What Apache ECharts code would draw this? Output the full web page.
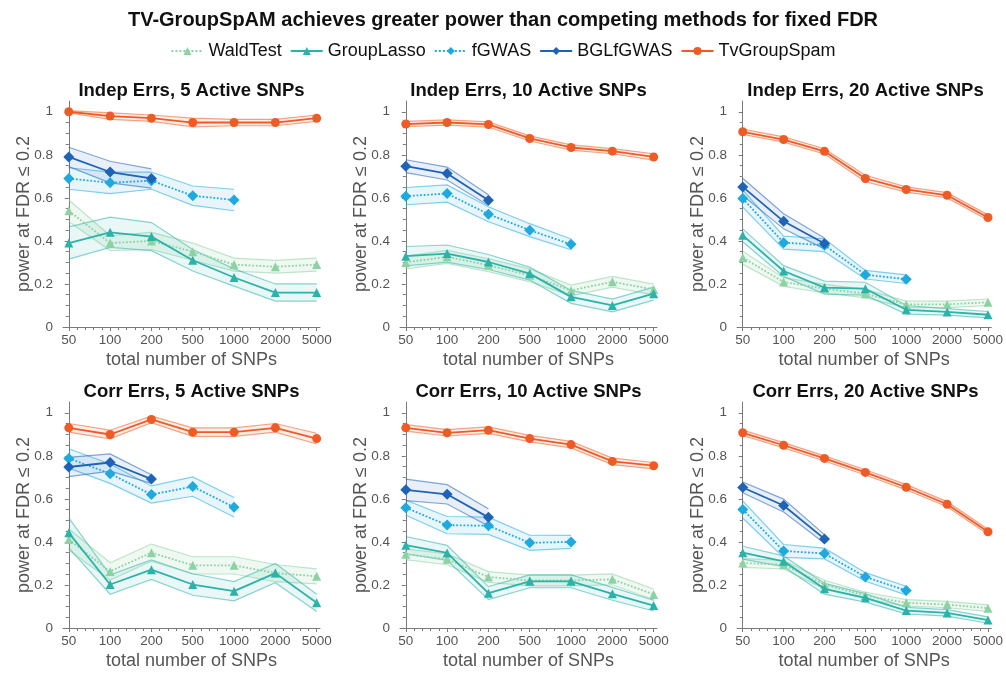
<!DOCTYPE html>
<html>
<head>
<meta charset="utf-8">
<script src="https://cdn.jsdelivr.net/npm/echarts@6/dist/echarts.min.js"></script>
<style>html,body{margin:0;padding:0;background:#fff}#c{width:1006px;height:674px}</style>
</head>
<body>
<div id="c"></div>
<script>
const xLabels = ['50','100','200','500','1000','2000','5000'];
const methods = ['WaldTest','GroupLasso','fGWAS','BGLfGWAS','TvGroupSpam'];
const panelTitles = ['Indep Errs, 5 Active SNPs','Indep Errs, 10 Active SNPs','Indep Errs, 20 Active SNPs',
                     'Corr Errs, 5 Active SNPs','Corr Errs, 10 Active SNPs','Corr Errs, 20 Active SNPs'];
const yTicks = [0, 0.2, 0.4, 0.6, 0.8, 1];

// Panel 1: Indep Errs, 5 Active SNPs
const p1_wald = [0.54, 0.39, 0.40, 0.35, 0.29, 0.28, 0.29];
const p1_waldErr = [0.05, 0.035, 0.04, 0.04, 0.03, 0.03, 0.03];
const p1_lasso = [0.39, 0.44, 0.42, 0.31, 0.23, 0.16, 0.16];
const p1_lassoErr = [0.075, 0.07, 0.065, 0.05, 0.04, 0.04, 0.04];
const p1_fgwas = [0.69, 0.67, 0.68, 0.61, 0.59];
const p1_fgwasErr = [0.05, 0.05, 0.04, 0.045, 0.05];
const p1_bgl = [0.79, 0.72, 0.69];
const p1_bglErr = [0.045, 0.05, 0.045];
const p1_tv = [1.0, 0.98, 0.97, 0.95, 0.95, 0.95, 0.97];
const p1_tvErr = [0.005, 0.015, 0.015, 0.02, 0.015, 0.015, 0.015];

// Panel 2: Indep Errs, 10 Active SNPs
const p2_wald = [0.30, 0.326, 0.287, 0.24, 0.17, 0.21, 0.174];
const p2_waldErr = [0.03, 0.03, 0.03, 0.03, 0.025, 0.025, 0.025];
const p2_lasso = [0.329, 0.341, 0.302, 0.248, 0.14, 0.10, 0.155];
const p2_lassoErr = [0.045, 0.04, 0.035, 0.03, 0.03, 0.03, 0.03];
const p2_fgwas = [0.608, 0.62, 0.524, 0.45, 0.384];
const p2_fgwasErr = [0.04, 0.04, 0.035, 0.03, 0.025];
const p2_bgl = [0.747, 0.713, 0.589];
const p2_bglErr = [0.03, 0.03, 0.025];
const p2_tv = [0.943, 0.95, 0.941, 0.876, 0.834, 0.817, 0.79];
const p2_tvErr = [0.012, 0.012, 0.012, 0.012, 0.012, 0.012, 0.015];

// Panel 3: Indep Errs, 20 Active SNPs
const p3_wald = [0.322, 0.209, 0.178, 0.155, 0.105, 0.105, 0.115];
const p3_waldErr = [0.03, 0.02, 0.02, 0.02, 0.015, 0.015, 0.015];
const p3_lasso = [0.426, 0.26, 0.183, 0.178, 0.08, 0.07, 0.057];
const p3_lassoErr = [0.03, 0.025, 0.03, 0.03, 0.02, 0.015, 0.015];
const p3_fgwas = [0.597, 0.392, 0.38, 0.243, 0.222];
const p3_fgwasErr = [0.04, 0.03, 0.03, 0.02, 0.02];
const p3_bgl = [0.651, 0.491, 0.388];
const p3_bglErr = [0.04, 0.035, 0.025];
const p3_tv = [0.907, 0.871, 0.816, 0.69, 0.639, 0.612, 0.509];
const p3_tvErr = [0.012, 0.012, 0.012, 0.015, 0.012, 0.012, 0.012];

// Panel 4: Corr Errs, 5 Active SNPs
const p4_wald = [0.411, 0.263, 0.35, 0.291, 0.291, 0.255, 0.24];
const p4_waldErr = [0.05, 0.04, 0.04, 0.04, 0.04, 0.04, 0.035];
const p4_lasso = [0.442, 0.202, 0.271, 0.202, 0.171, 0.255, 0.117];
const p4_lassoErr = [0.07, 0.045, 0.045, 0.05, 0.045, 0.045, 0.04];
const p4_fgwas = [0.788, 0.717, 0.62, 0.657, 0.561];
const p4_fgwasErr = [0.045, 0.045, 0.04, 0.045, 0.045];
const p4_bgl = [0.748, 0.769, 0.692];
const p4_bglErr = [0.045, 0.04, 0.02];
const p4_tv = [0.93, 0.899, 0.969, 0.91, 0.91, 0.93, 0.88];
const p4_tvErr = [0.02, 0.02, 0.015, 0.02, 0.02, 0.02, 0.025];

// Panel 5: Corr Errs, 10 Active SNPs
const p5_wald = [0.343, 0.319, 0.237, 0.221, 0.221, 0.226, 0.156];
const p5_waldErr = [0.025, 0.025, 0.025, 0.025, 0.025, 0.025, 0.025];
const p5_lasso = [0.385, 0.349, 0.162, 0.217, 0.217, 0.159, 0.104];
const p5_lassoErr = [0.04, 0.035, 0.03, 0.03, 0.03, 0.03, 0.025];
const p5_fgwas = [0.559, 0.478, 0.475, 0.396, 0.40];
const p5_fgwasErr = [0.035, 0.04, 0.04, 0.035, 0.03];
const p5_bgl = [0.642, 0.621, 0.514];
const p5_bglErr = [0.05, 0.045, 0.04];
const p5_tv = [0.93, 0.907, 0.919, 0.88, 0.852, 0.774, 0.754];
const p5_tvErr = [0.015, 0.015, 0.015, 0.015, 0.015, 0.015, 0.015];

// Panel 6: Corr Errs, 20 Active SNPs
const p6_wald = [0.302, 0.294, 0.202, 0.151, 0.117, 0.109, 0.092];
const p6_waldErr = [0.02, 0.02, 0.02, 0.015, 0.015, 0.015, 0.015];
const p6_lasso = [0.35, 0.31, 0.182, 0.14, 0.081, 0.07, 0.037];
const p6_lassoErr = [0.03, 0.025, 0.025, 0.02, 0.015, 0.015, 0.015];
const p6_fgwas = [0.551, 0.358, 0.346, 0.237, 0.174];
const p6_fgwasErr = [0.04, 0.03, 0.025, 0.02, 0.02];
const p6_bgl = [0.653, 0.569, 0.414];
const p6_bglErr = [0.025, 0.03, 0.02];
const p6_tv = [0.907, 0.849, 0.788, 0.723, 0.654, 0.575, 0.447];
const p6_tvErr = [0.012, 0.012, 0.012, 0.012, 0.012, 0.012, 0.012];

const panels = [
  {WaldTest:[p1_wald,p1_waldErr], GroupLasso:[p1_lasso,p1_lassoErr], fGWAS:[p1_fgwas,p1_fgwasErr], BGLfGWAS:[p1_bgl,p1_bglErr], TvGroupSpam:[p1_tv,p1_tvErr]},
  {WaldTest:[p2_wald,p2_waldErr], GroupLasso:[p2_lasso,p2_lassoErr], fGWAS:[p2_fgwas,p2_fgwasErr], BGLfGWAS:[p2_bgl,p2_bglErr], TvGroupSpam:[p2_tv,p2_tvErr]},
  {WaldTest:[p3_wald,p3_waldErr], GroupLasso:[p3_lasso,p3_lassoErr], fGWAS:[p3_fgwas,p3_fgwasErr], BGLfGWAS:[p3_bgl,p3_bglErr], TvGroupSpam:[p3_tv,p3_tvErr]},
  {WaldTest:[p4_wald,p4_waldErr], GroupLasso:[p4_lasso,p4_lassoErr], fGWAS:[p4_fgwas,p4_fgwasErr], BGLfGWAS:[p4_bgl,p4_bglErr], TvGroupSpam:[p4_tv,p4_tvErr]},
  {WaldTest:[p5_wald,p5_waldErr], GroupLasso:[p5_lasso,p5_lassoErr], fGWAS:[p5_fgwas,p5_fgwasErr], BGLfGWAS:[p5_bgl,p5_bglErr], TvGroupSpam:[p5_tv,p5_tvErr]},
  {WaldTest:[p6_wald,p6_waldErr], GroupLasso:[p6_lasso,p6_lassoErr], fGWAS:[p6_fgwas,p6_fgwasErr], BGLfGWAS:[p6_bgl,p6_bglErr], TvGroupSpam:[p6_tv,p6_tvErr]}
];

const styleOf = {
  WaldTest:    {color:'#8ED2A4', symbol:'triangle', size:9, type:'dotted', band:'rgba(142,210,164,0.14)'},
  GroupLasso:  {color:'#2BB3AA', symbol:'triangle', size:9, type:'solid',  band:'rgba(43,179,170,0.10)'},
  fGWAS:       {color:'#1EAADF', symbol:'diamond',  size:11, type:'dotted', band:'rgba(30,170,223,0.10)'},
  BGLfGWAS:    {color:'#1F63B6', symbol:'diamond',  size:11, type:'solid',  band:'rgba(31,99,182,0.10)'},
  TvGroupSpam: {color:'#EF5B25', symbol:'circle',   size:9, type:'solid',  band:'rgba(239,91,37,0.10)'}
};

const FONT = '"Liberation Sans", Arial, Helvetica, sans-serif';
const axisGray = '#7a7a7a';
const textGray = '#555';
const lefts = [63, 400, 737];
const tops = [101, 402];
const gw = 257, gh = 226;

const grid = [], xAxis = [], yAxis = [], series = [];
const title = [{
  text: 'TV-GroupSpAM achieves greater power than competing methods for fixed FDR',
  left: 'center', top: 5,
  textStyle: {fontFamily: FONT, fontSize: 20, fontWeight: 'bold', color: '#111'}
}];

const majorX = [0,1,2,3,4,5,6];
const minorX = [];
for (let k = 0; k < 6; k++) for (let j = 1; j < 5; j++) minorX.push(k + j * 0.2);
const minorY = [];
for (let k = 1; k <= 20; k++) if (k % 4 !== 0) minorY.push(k * 0.05);

panels.forEach((p, i) => {
  const r = Math.floor(i / 3), c = i % 3;
  grid.push({left: lefts[c], top: tops[r], width: gw, height: gh});
  title.push({
    text: panelTitles[i], left: lefts[c] + gw / 2 - 5, top: tops[r] - 25, textAlign: 'center',
    textStyle: {fontFamily: FONT, fontSize: 18.5, fontWeight: 'bold', color: '#111'}
  });
  const xi = xAxis.length, yi = yAxis.length;
  xAxis.push({
    gridIndex: i, type: 'value', min: -0.14, max: 6.08,
    name: 'total number of SNPs', nameLocation: 'middle', nameGap: 24, nameMoveOverlap: false,
    nameTextStyle: {fontFamily: FONT, fontSize: 18, color: textGray},
    axisLine: {show: true, lineStyle: {color: axisGray, width: 1}},
    axisTick: {show: true, customValues: majorX, length: 4, lineStyle: {color: axisGray}},
    axisLabel: {customValues: majorX, formatter: v => xLabels[Math.round(v)], fontFamily: FONT, fontSize: 13.5, color: textGray, margin: 6},
    splitLine: {show: false}
  });
  xAxis.push({
    gridIndex: i, type: 'value', min: -0.14, max: 6.08, position: 'bottom',
    axisLine: {show: false},
    axisTick: {show: true, customValues: minorX, length: 3, lineStyle: {color: axisGray}},
    axisLabel: {show: false}, splitLine: {show: false}
  });
  yAxis.push({
    gridIndex: i, type: 'value', min: 0, max: 1.05,
    name: 'power at FDR \u2264 0.2', nameLocation: 'middle', nameGap: 30, nameMoveOverlap: false,
    nameTextStyle: {fontFamily: FONT, fontSize: 18, color: textGray},
    axisLine: {show: true, lineStyle: {color: axisGray, width: 1}},
    axisTick: {show: true, customValues: yTicks, length: 4, lineStyle: {color: axisGray}},
    axisLabel: {customValues: yTicks, formatter: v => String(Math.round(v * 10) / 10), fontFamily: FONT, fontSize: 13.5, color: textGray, margin: 10},
    splitLine: {show: false}
  });
  yAxis.push({
    gridIndex: i, type: 'value', min: 0, max: 1.05, position: 'left',
    axisLine: {show: false},
    axisTick: {show: true, customValues: minorY, length: 3, lineStyle: {color: axisGray}},
    axisLabel: {show: false}, splitLine: {show: false}
  });

  methods.forEach((m, mi) => {
    const st = styleOf[m];
    const vals = p[m][0], err = p[m][1];
    series.push({
      type: 'custom', name: m + ' band', xAxisIndex: xi, yAxisIndex: yi, silent: true,
      z: 1 + mi * 0.01,
      data: [[0, vals[0]]],
      renderItem: (params, api) => {
        const up = vals.map((v, k) => api.coord([k, v + err[k]]));
        const lo = vals.map((v, k) => api.coord([k, v - err[k]]));
        return {type: 'group', children: [
          {type: 'polygon', shape: {points: up.concat(lo.slice().reverse())}, style: {fill: st.band}},
          {type: 'polyline', shape: {points: up}, style: {stroke: st.color, opacity: 0.55, lineWidth: 1.2, fill: null}},
          {type: 'polyline', shape: {points: lo}, style: {stroke: st.color, opacity: 0.55, lineWidth: 1.2, fill: null}}
        ]};
      }
    });
    series.push({
      type: 'line', name: m, xAxisIndex: xi, yAxisIndex: yi, z: 5 + mi,
      data: vals.map((v, k) => [k, v]),
      symbol: st.symbol, symbolSize: st.size, showAllSymbol: true,
      itemStyle: {color: st.color},
      lineStyle: {color: st.color, width: 1.8, type: st.type},
      animation: false
    });
  });
});

const chart = echarts.init(document.getElementById('c'), null, {renderer: 'canvas'});
chart.setOption({
  backgroundColor: '#fff',
  animation: false,
  title: title,
  legend: {
    data: methods, top: 37, left: 'center', itemWidth: 32, itemHeight: 10, itemGap: 8,
    textStyle: {fontFamily: FONT, fontSize: 18, color: '#111'}
  },
  grid: grid, xAxis: xAxis, yAxis: yAxis, series: series
});
</script>
</body>
</html>
